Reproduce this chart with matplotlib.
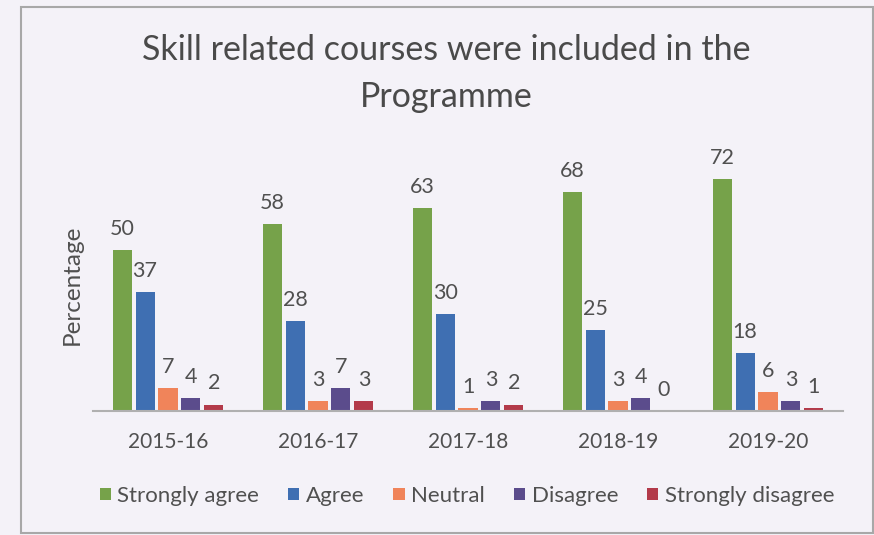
import numpy as np
import matplotlib.pyplot as plt
from matplotlib.patches import Rectangle

years = ["2015-16", "2016-17", "2017-18", "2018-19", "2019-20"]
series = ["Strongly agree", "Agree", "Neutral", "Disagree", "Strongly disagree"]
strongly_agree = [50, 58, 63, 68, 72]
agree = [37, 28, 30, 25, 18]
neutral = [7, 3, 1, 3, 6]
disagree = [4, 7, 3, 4, 3]
strongly_disagree = [2, 3, 2, 0, 1]
colors = ["#76a24a", "#3f6fb2", "#f0845a", "#5b4c8c", "#b33a4a"]

plt.rcParams['font.family'] = ['Lato', 'DejaVu Sans']
txt = "#505050"
bg = "#f4f2f8"

fig = plt.figure(figsize=(8.74, 5.35), dpi=100, facecolor=bg)
# chart border
fig.patches.append(Rectangle((21/874, 1-533/535), (873-21)/874, (533-7)/535,
                             transform=fig.transFigure, fill=False,
                             edgecolor="#a8a8a8", lw=1.5))

ax = fig.add_axes([93/874, 1-411/535, 750/874, 0.4815])
ax.set_facecolor(bg)
x = np.arange(len(years))
data = [strongly_agree, agree, neutral, disagree, strongly_disagree]
step, w = 0.153, 0.127
for i, (name, vals) in enumerate(zip(series, data)):
    pos = x + (i - 2) * step
    bars = ax.bar(pos, vals, w, color=colors[i], label=name)
    for b, v in zip(bars, vals):
        ax.annotate(str(v), (b.get_x() + w/2, v), xytext=(0, 8),
                    textcoords="offset points", ha="center", va="bottom",
                    fontsize=15.5, color=txt)

ax.set_xlim(-0.5, 4.5)
ax.set_ylim(0, 80)
ax.set_xticks(x)
ax.set_xticklabels(years, fontsize=15, color=txt)
ax.tick_params(axis="x", length=0, pad=15)
ax.set_yticks([])
for s in ["top", "right", "left"]:
    ax.spines[s].set_visible(False)
ax.spines["bottom"].set_color("#b0b0b0")
ax.spines["bottom"].set_linewidth(1.5)

fig.text(72/874, 1-285/535, "Percentage", rotation=90, ha="center", va="center",
         fontsize=17.5, color=txt)
fig.text(446/874, 1-50/535, "Skill related courses were included in the",
         ha="center", va="center", fontsize=24.5, color="#4a4a4a")
fig.text(446/874, 1-97/535, "Programme",
         ha="center", va="center", fontsize=24.5, color="#4a4a4a")

fig.legend(loc="center", bbox_to_anchor=(467/874, 1-496/535), ncol=5,
           frameon=False, fontsize=16, handlelength=0.5, handleheight=0.5,
           handletextpad=0.3, columnspacing=1.3, labelcolor=txt)

fig.savefig("out.png", dpi=100, facecolor=bg)
